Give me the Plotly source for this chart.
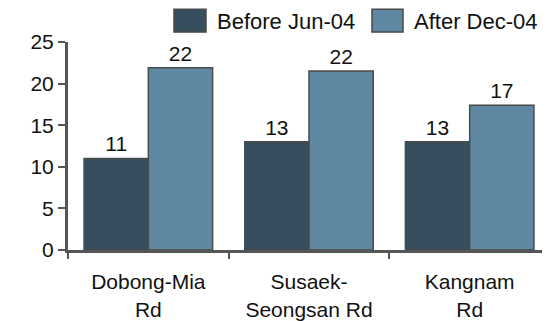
import plotly.graph_objects as go

categories = ["Dobong-Mia<br>Rd", "Susaek-<br>Seongsan Rd", "Kangnam<br>Rd"]
series_names = ["Before Jun-04", "After Dec-04"]
before_values = [11, 13, 13]
after_values = [21.9, 21.5, 17.4]
y_ticks = [0, 5, 10, 15, 20, 25]

dark = "#364E5E"
light = "#5F89A3"
edge = "#4A4A4A"
axis_col = "#555555"
family = "Liberation Sans, Arial, sans-serif"
font = dict(family=family, size=21, color="#111111")
legend_font = dict(family=family, size=22, color="#111111")

fig = go.Figure()
for name, vals, col in [(series_names[0], before_values, dark), (series_names[1], after_values, light)]:
    fig.add_trace(go.Bar(
        x=categories, y=vals, name=name,
        marker=dict(color=col, line=dict(color=edge, width=1.5)),
        texttemplate="%{y:.0f}", textposition="outside",
        textfont=font, cliponaxis=False, showlegend=False,
    ))

# manual legend (boxes + labels); screen coords of plot area: x 68..550, y 42..252
W, H = 482, 210
def px(x):
    return (x - 68) / W
def py(y):
    return (252 - y) / H

for (x0, x1, tx, name, col) in [(174, 206, 215, series_names[0], dark), (372, 403, 412, series_names[1], light)]:
    fig.add_shape(type="rect", xref="paper", yref="paper",
                  x0=px(x0), x1=px(x1), y0=py(32), y1=py(9),
                  fillcolor=col, line=dict(color=edge, width=1.5))
    fig.add_annotation(xref="paper", yref="paper", x=px(tx), y=py(21),
                       text=name, showarrow=False, xanchor="left", yanchor="middle",
                       font=legend_font)

# page body has an 8px margin, so the figure is sized/placed accordingly
fig.update_layout(
    width=542, height=313,
    margin=dict(l=60, r=0, t=34, b=69),
    paper_bgcolor="white", plot_bgcolor="white",
    barmode="group", bargap=0.2, bargroupgap=0,
    font=font,
)
fig.update_yaxes(
    range=[0, 25], tickvals=y_ticks, showgrid=False, zeroline=False,
    showline=True, linecolor=axis_col, linewidth=3,
    ticks="outside", ticklen=7, tickwidth=2, tickcolor=axis_col,
    tickfont=font,
)
fig.update_xaxes(
    showgrid=False, showline=True, linecolor=axis_col, linewidth=3,
    ticks="outside", tickson="boundaries", ticklen=6, tickwidth=2, tickcolor=axis_col,
    tickfont=font, ticklabelstandoff=11,
)
fig.write_html("out.html")
